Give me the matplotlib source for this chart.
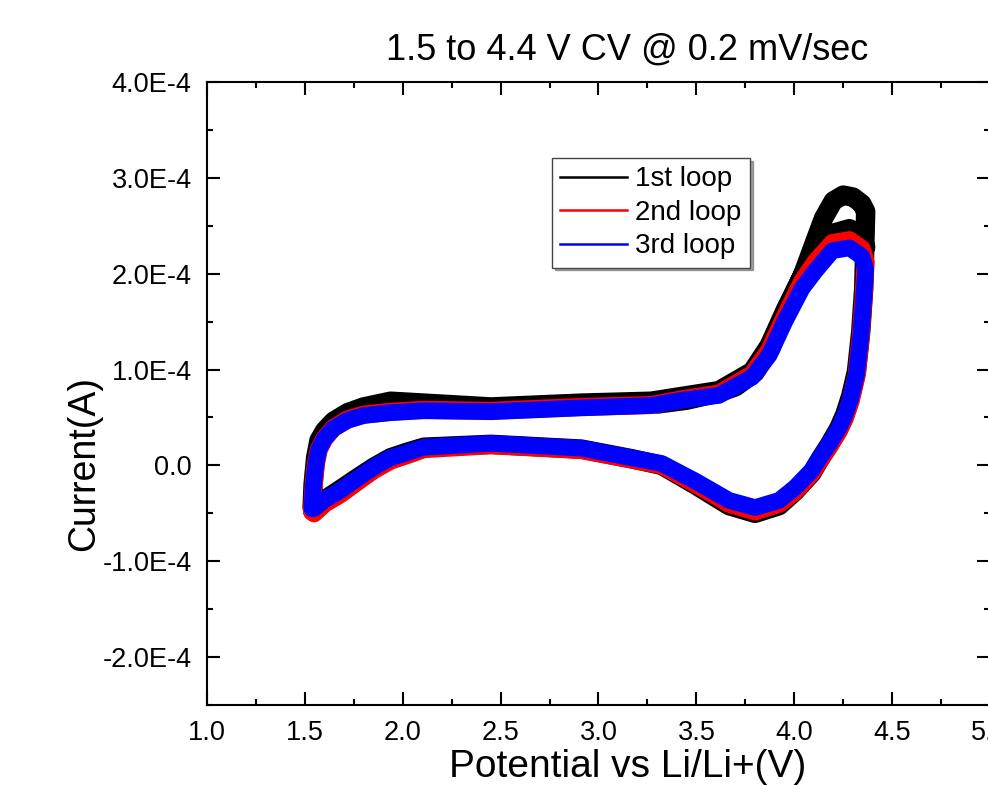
import matplotlib
matplotlib.use("Agg")
import matplotlib.pyplot as plt
from matplotlib.lines import Line2D
from matplotlib.ticker import MultipleLocator, FuncFormatter

plt.rcParams['font.family'] = ['Liberation Sans', 'DejaVu Sans']

# ---- data (potential in V, current in 1e-4 A) ----
loop3_v = [1.537, 1.542, 1.555, 1.572, 1.600, 1.646, 1.718, 1.800, 1.938, 2.108, 2.450, 2.913,
           3.270, 3.426, 3.615, 3.785, 3.872, 3.954, 4.041, 4.108, 4.195, 4.282, 4.345, 4.365,
           4.355, 4.340, 4.318, 4.288, 4.258, 4.228, 4.180, 4.130, 4.090, 4.005, 3.923, 3.800,
           3.667, 3.492, 3.323, 3.169, 2.913, 2.451, 2.108, 2.026, 1.938, 1.851, 1.769, 1.682,
           1.600, 1.547, 1.537]
loop3_i = [-0.45, -0.25, 0.00, 0.17, 0.28, 0.385, 0.47, 0.52, 0.55, 0.57, 0.56, 0.60,
           0.625, 0.68, 0.73, 0.92, 1.15, 1.51, 1.85, 2.03, 2.24, 2.27, 2.18, 2.05,
           1.75, 1.35, 0.95, 0.70, 0.52, 0.39, 0.23, 0.08, -0.05, -0.23, -0.365, -0.44,
           -0.365, -0.16, 0.02, 0.08, 0.18, 0.23, 0.19, 0.135, 0.08, -0.02, -0.135, -0.26,
           -0.36, -0.45, -0.45]

loop2_v = loop3_v
loop2_i = [-0.48, -0.27, 0.00, 0.17, 0.28, 0.39, 0.48, 0.53, 0.56, 0.58, 0.57, 0.61,
           0.63, 0.69, 0.75, 0.95, 1.20, 1.56, 1.92, 2.12, 2.32, 2.35, 2.26, 2.12,
           1.78, 1.35, 0.93, 0.67, 0.49, 0.36, 0.20, 0.05, -0.08, -0.27, -0.40, -0.48,
           -0.40, -0.19, 0.00, 0.06, 0.16, 0.21, 0.17, 0.11, 0.05, -0.05, -0.17, -0.30,
           -0.40, -0.50, -0.48]

loop1_v = [3.300, 3.450, 3.600, 3.700, 3.800, 3.880, 3.950, 4.041, 4.108, 4.150, 4.200, 4.250,
           4.300, 4.345, 4.365, 4.355, 4.340, 4.318, 4.288, 4.258, 4.228, 4.180, 4.130, 4.090,
           4.005, 3.923, 3.800, 3.667, 3.492, 3.323, 3.169, 2.913, 2.451, 2.108, 2.026, 1.938,
           1.851, 1.769, 1.682, 1.600, 1.547, 1.537, 1.542, 1.555, 1.572, 1.600, 1.646, 1.718,
           1.800, 1.938, 2.108, 2.450, 2.913, 3.270, 3.426, 3.615, 3.785, 3.872, 3.954, 4.041,
           4.108, 4.195, 4.282, 4.345, 4.365]
loop1_i = [0.64, 0.68, 0.75, 0.82, 0.97, 1.22, 1.58, 1.98, 2.35, 2.58, 2.76, 2.82,
           2.80, 2.73, 2.65, 1.85, 1.40, 0.98, 0.72, 0.53, 0.39, 0.22, 0.06, -0.08,
           -0.27, -0.42, -0.50, -0.42, -0.20, 0.00, 0.07, 0.17, 0.22, 0.19, 0.14, 0.08,
           -0.02, -0.13, -0.25, -0.36, -0.44, -0.44, -0.20, 0.08, 0.26, 0.36, 0.46, 0.55,
           0.61, 0.67, 0.65, 0.61, 0.65, 0.67, 0.72, 0.78, 0.98, 1.25, 1.62, 1.98,
           2.20, 2.42, 2.47, 2.38, 2.28]

labels = ['1st loop', '2nd loop', '3rd loop']
colors = ['#000000', '#ff0000', '#0000ff']
title = '1.5 to 4.4 V CV @ 0.2 mV/sec'
xlabel = 'Potential vs Li/Li+(V)'
ylabel = 'Current(A)'
scale = 1e-4

fig = plt.figure(figsize=(9.88, 7.85), dpi=100)
ax = fig.add_axes([0.2095, 0.1019, 0.7925, 0.7936])

series = [(loop1_v, loop1_i, 14.0), (loop2_v, loop2_i, 13.0), (loop3_v, loop3_i, 12.0)]
for (v, i, lw), c in zip(series, colors):
    ax.plot(v, [k * scale for k in i], color=c, lw=lw, solid_joinstyle='round',
            solid_capstyle='round')

ax.set_xlim(1.0, 5.0)
ax.set_ylim(-2.5e-4, 4.0e-4)
ax.xaxis.set_major_locator(MultipleLocator(0.5))
ax.xaxis.set_minor_locator(MultipleLocator(0.25))
ax.yaxis.set_major_locator(MultipleLocator(1e-4))
ax.yaxis.set_minor_locator(MultipleLocator(0.5e-4))
ax.xaxis.set_major_formatter(FuncFormatter(lambda v, p: f"{v:.1f}"))

def yfmt(v, p):
    if abs(v) < 1e-9:
        return "0.0"
    return f"{v / 1e-4:.1f}E-4"
ax.yaxis.set_major_formatter(FuncFormatter(yfmt))

ax.tick_params(which='both', direction='in', top=True, right=True, width=1.5, labelsize=19.5)
ax.tick_params(which='major', length=9.5)
ax.tick_params(which='minor', length=4.5)
ax.tick_params(axis='y', pad=11)
ax.tick_params(axis='x', pad=11)
for s in ax.spines.values():
    s.set_linewidth(1.5)

ax.set_xlabel(xlabel, fontsize=28)
ax.set_ylabel(ylabel, fontsize=27)
ax.xaxis.set_label_coords(0.537, -0.071)
ax.yaxis.set_label_coords(-0.134, 0.387)

fig.text(627 / 988, 1 - 50 / 785, title, fontsize=26, ha='center', va='center')

handles = [Line2D([], [], color=c, lw=1.8) for c in colors]
leg = ax.legend(handles, labels, loc='upper left', bbox_to_anchor=(552 / 988, 1 - 158 / 785),
                bbox_transform=fig.transFigure, fontsize=20, frameon=True, fancybox=False,
                shadow=True, handlelength=2.4, handletextpad=0.3, labelspacing=0.27,
                borderpad=0.3, borderaxespad=0)
leg.get_frame().set_edgecolor('#444444')
leg.get_frame().set_linewidth(1.0)

fig.savefig('out.png', dpi=100)
